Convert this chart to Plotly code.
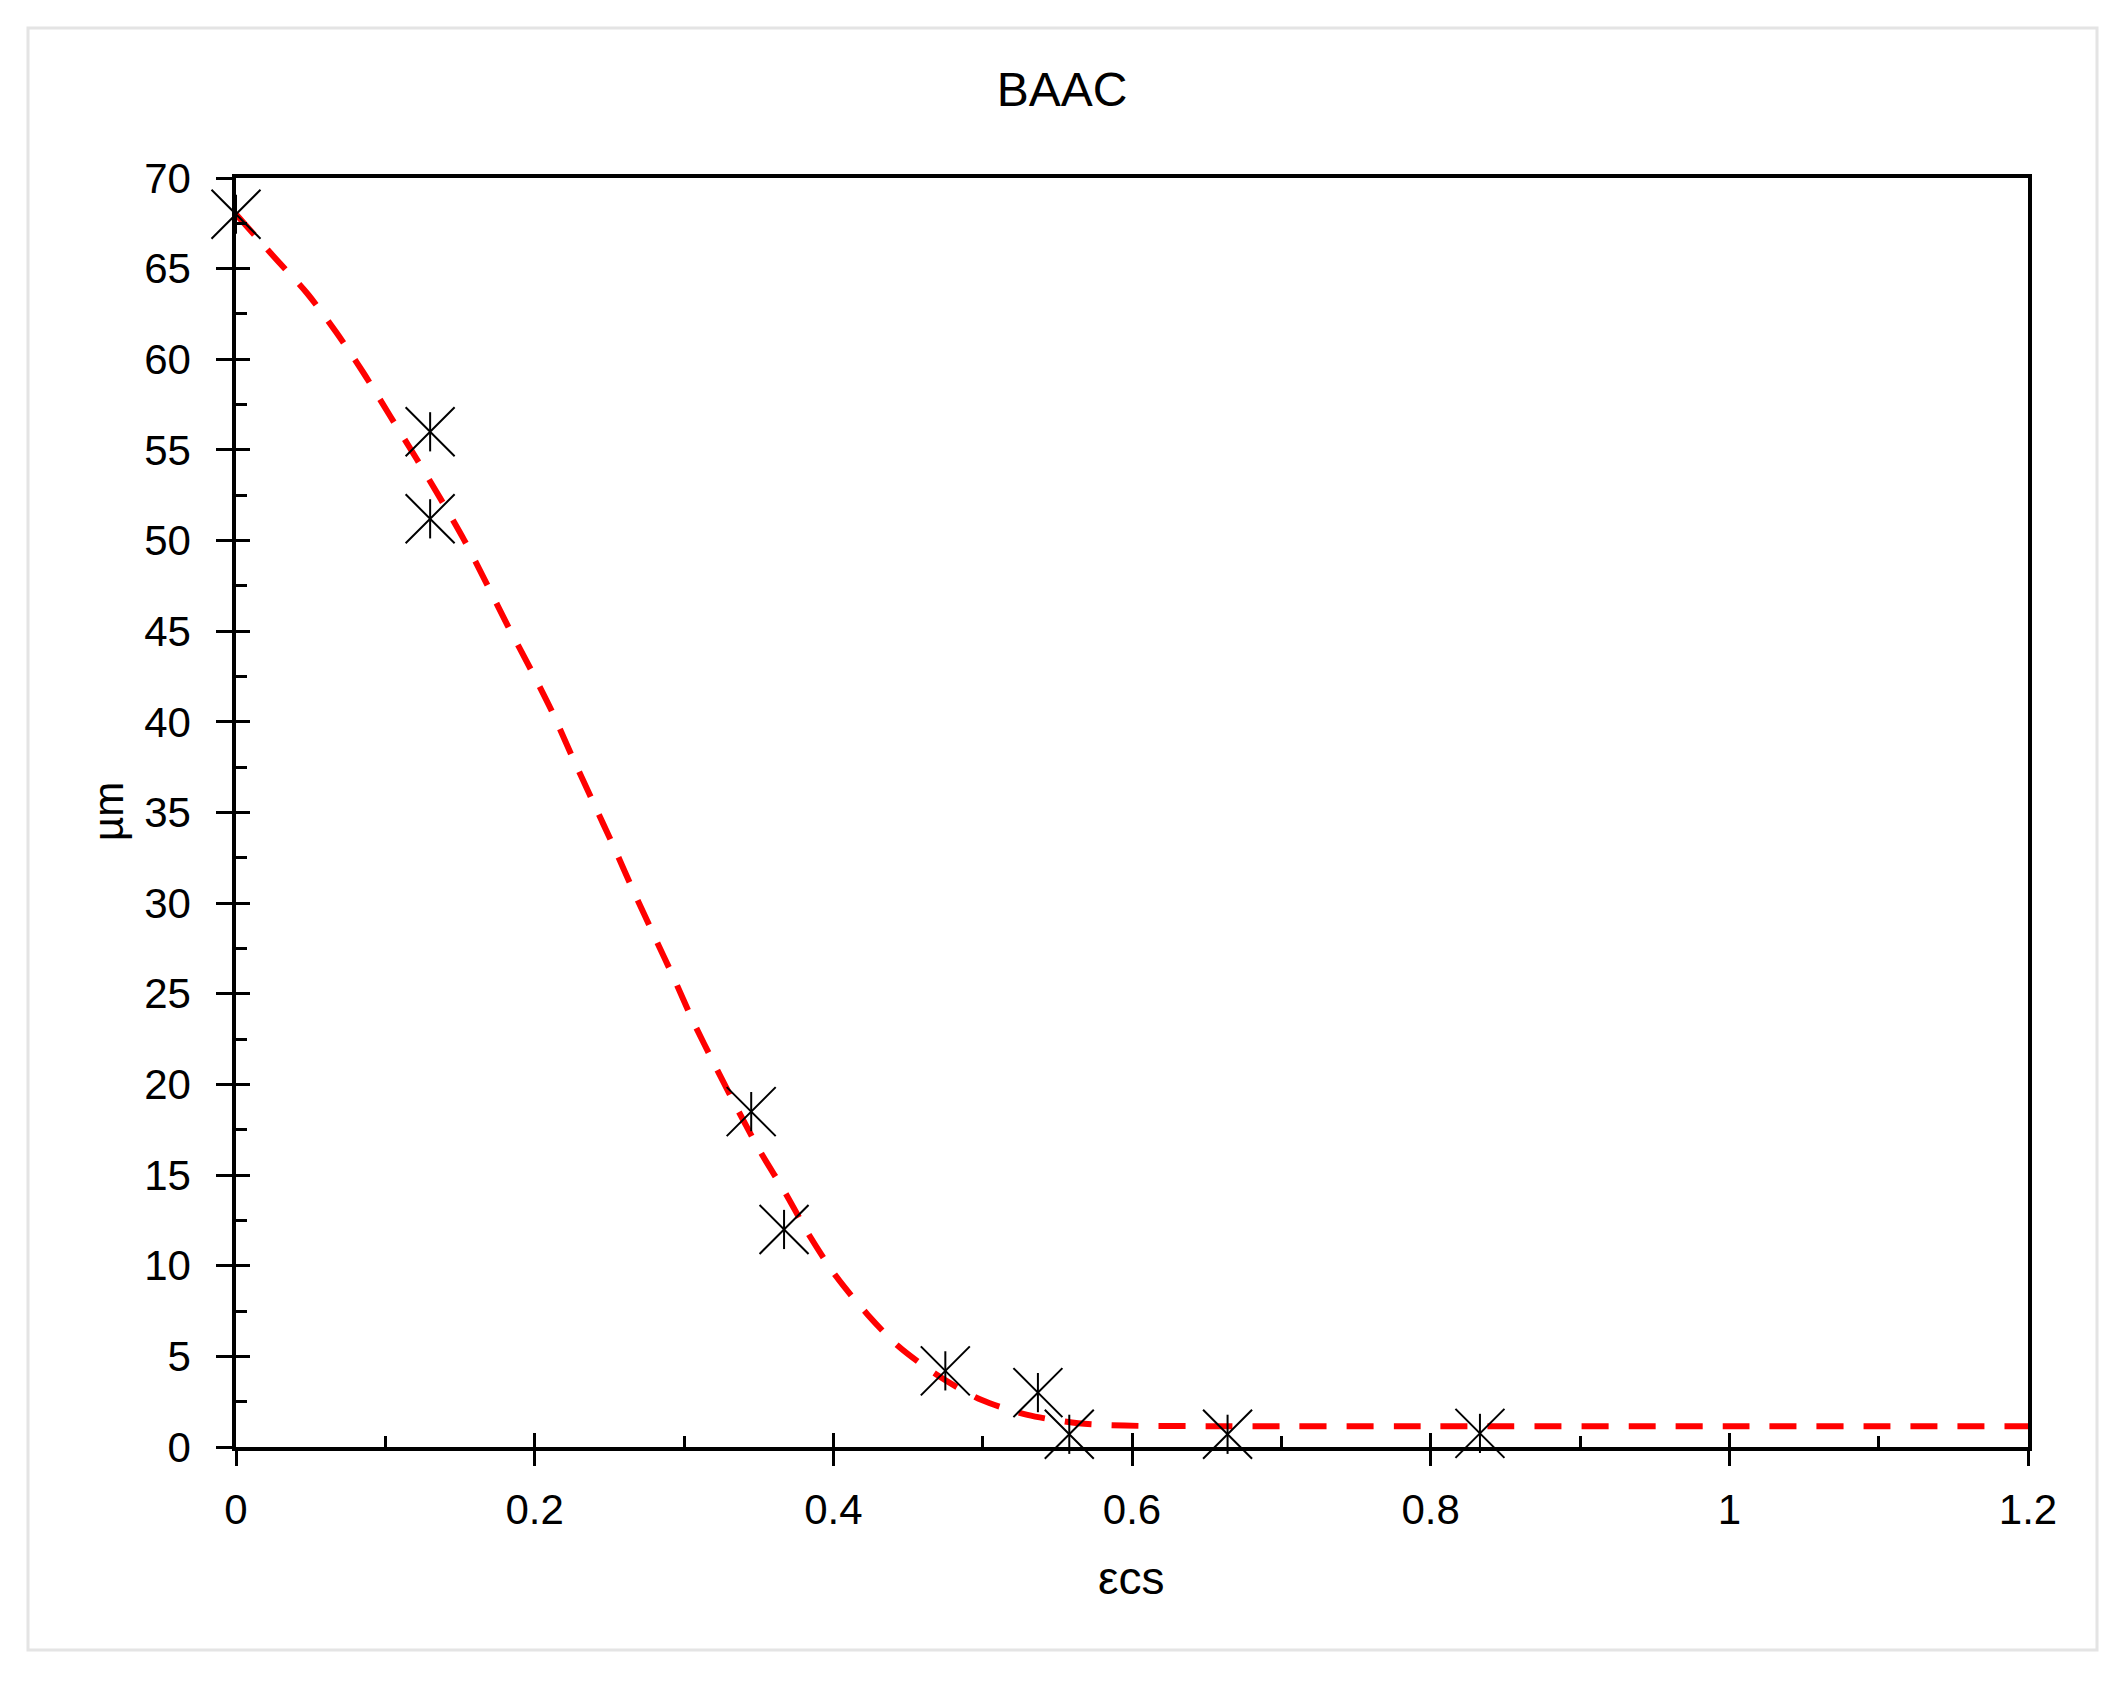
import plotly.graph_objects as go

# measured points
eps_cs = [0, 0.13, 0.13, 0.345, 0.367, 0.475, 0.537, 0.558, 0.664, 0.833]
size_um = [68.0, 56.0, 51.2, 18.5, 12.0, 4.2, 3.0, 0.7, 0.7, 0.75]

# fitted curve
fit_x = [0, 0.026, 0.048, 0.067, 0.085, 0.103, 0.121, 0.137, 0.153, 0.168,
         0.182, 0.198, 0.212, 0.225, 0.239, 0.253, 0.266, 0.280, 0.293, 0.306,
         0.321, 0.336, 0.351, 0.368, 0.383, 0.402, 0.423, 0.443, 0.469, 0.499,
         0.530, 0.564, 0.595, 0.65, 0.8, 1.0, 1.2]
fit_y = [68.0, 65.6, 63.6, 61.5, 59.3, 56.9, 54.5, 52.3, 50.0, 47.6,
         45.3, 42.8, 40.5, 38.1, 35.6, 33.1, 30.7, 28.2, 25.9, 23.5,
         21.0, 18.6, 16.3, 14.0, 11.8, 9.4, 7.3, 5.6, 4.0, 2.6,
         1.77, 1.31, 1.18, 1.15, 1.15, 1.15, 1.15]

x_ticks = [0, 0.2, 0.4, 0.6, 0.8, 1.0, 1.2]
x_ticktext = ["0", "0.2", "0.4", "0.6", "0.8", "1", "1.2"]
y_ticks = list(range(0, 75, 5))

W, H = 2120, 1687
L, R, T, B = 236, 92, 178, 240
pw, ph = W - L - R, H - T - B

font = "Liberation Sans, Arial, sans-serif"

fig = go.Figure()

fig.add_trace(go.Scatter(
    x=fit_x, y=fit_y, mode="lines",
    line=dict(color="#FF0000", width=6, dash="27px,20px", shape="spline", smoothing=0.8),
    hoverinfo="skip", name="fit",
))

# Excel style star marker = x plus vertical stroke
fig.add_trace(go.Scatter(
    x=eps_cs, y=size_um, mode="markers", xaxis="x2", yaxis="y2",
    marker=dict(symbol="x-thin-open", size=49, color="black",
                line=dict(color="black", width=2)),
    cliponaxis=False, name="data",
))
fig.add_trace(go.Scatter(
    x=eps_cs, y=size_um, mode="markers", xaxis="x2", yaxis="y2",
    marker=dict(symbol="line-ns-open", size=28, color="black",
                line=dict(color="black", width=2)),
    cliponaxis=False, hoverinfo="skip", name="data",
))

axis_common = dict(showgrid=False, zeroline=False, color="black")

fig.update_layout(
    width=W, height=H,
    margin=dict(l=L, r=R, t=T, b=B),
    paper_bgcolor="white", plot_bgcolor="white",
    showlegend=False,
    font=dict(family=font, color="black"),
    title=dict(text="BAAC", x=1062 / W, xanchor="center", y=1 - 89 / H, yanchor="middle",
               yref="container", font=dict(family=font, size=48, color="black")),
    xaxis=dict(range=[0, 1.2], tickvals=x_ticks, ticktext=x_ticktext,
               ticks="outside", ticklen=15, tickwidth=3, tickcolor="black",
               showline=True, linewidth=3.5, linecolor="black", mirror=True,
               tickfont=dict(size=42, family=font), ticklabelstandoff=8,
               **axis_common),
    yaxis=dict(range=[0, 70], tickvals=y_ticks,
               ticks="outside", ticklen=16, tickwidth=3, tickcolor="black",
               showline=True, linewidth=3.5, linecolor="black", mirror=True,
               tickfont=dict(size=42, family=font), ticklabelstandoff=17,
               **axis_common),
    # overlay axes give the inner half of the crossing ticks and the minor ticks
    xaxis2=dict(range=[0, 1.2], overlaying="x", anchor="y2", side="bottom",
                tickvals=x_ticks, ticks="inside", ticklen=14, tickwidth=3, tickcolor="black",
                minor=dict(dtick=0.1, tick0=0, ticks="inside", ticklen=11, tickwidth=3,
                           tickcolor="black"),
                showticklabels=False, showline=False, **axis_common),
    yaxis2=dict(range=[0, 70], overlaying="y", anchor="x2", side="left",
                tickvals=y_ticks, ticks="inside", ticklen=14, tickwidth=3, tickcolor="black",
                minor=dict(dtick=2.5, tick0=0, ticks="inside", ticklen=11, tickwidth=3,
                           tickcolor="black"),
                showticklabels=False, showline=False, **axis_common),
)

fig.add_annotation(text="εcs", xref="paper", yref="paper",
                   x=(1131 - L) / pw, y=(H - B - 1578) / ph,
                   xanchor="center", yanchor="middle", showarrow=False,
                   font=dict(size=46, family=font, color="black"))
fig.add_annotation(text="µm", xref="paper", yref="paper",
                   x=(108 - L) / pw, y=(H - B - 812) / ph, textangle=-90,
                   xanchor="center", yanchor="middle", showarrow=False,
                   font=dict(size=42, family=font, color="black"))

# light frame around the whole chart
fig.add_shape(type="rect", xref="paper", yref="paper",
              x0=(28 - L) / pw, x1=(2097 - L) / pw,
              y0=(H - B - 1650) / ph, y1=(H - B - 28) / ph,
              line=dict(color="#E4E4E4", width=3), layer="below")

fig.write_html("out.html", config={"displayModeBar": False},
               post_script="document.body.style.margin='0';")
